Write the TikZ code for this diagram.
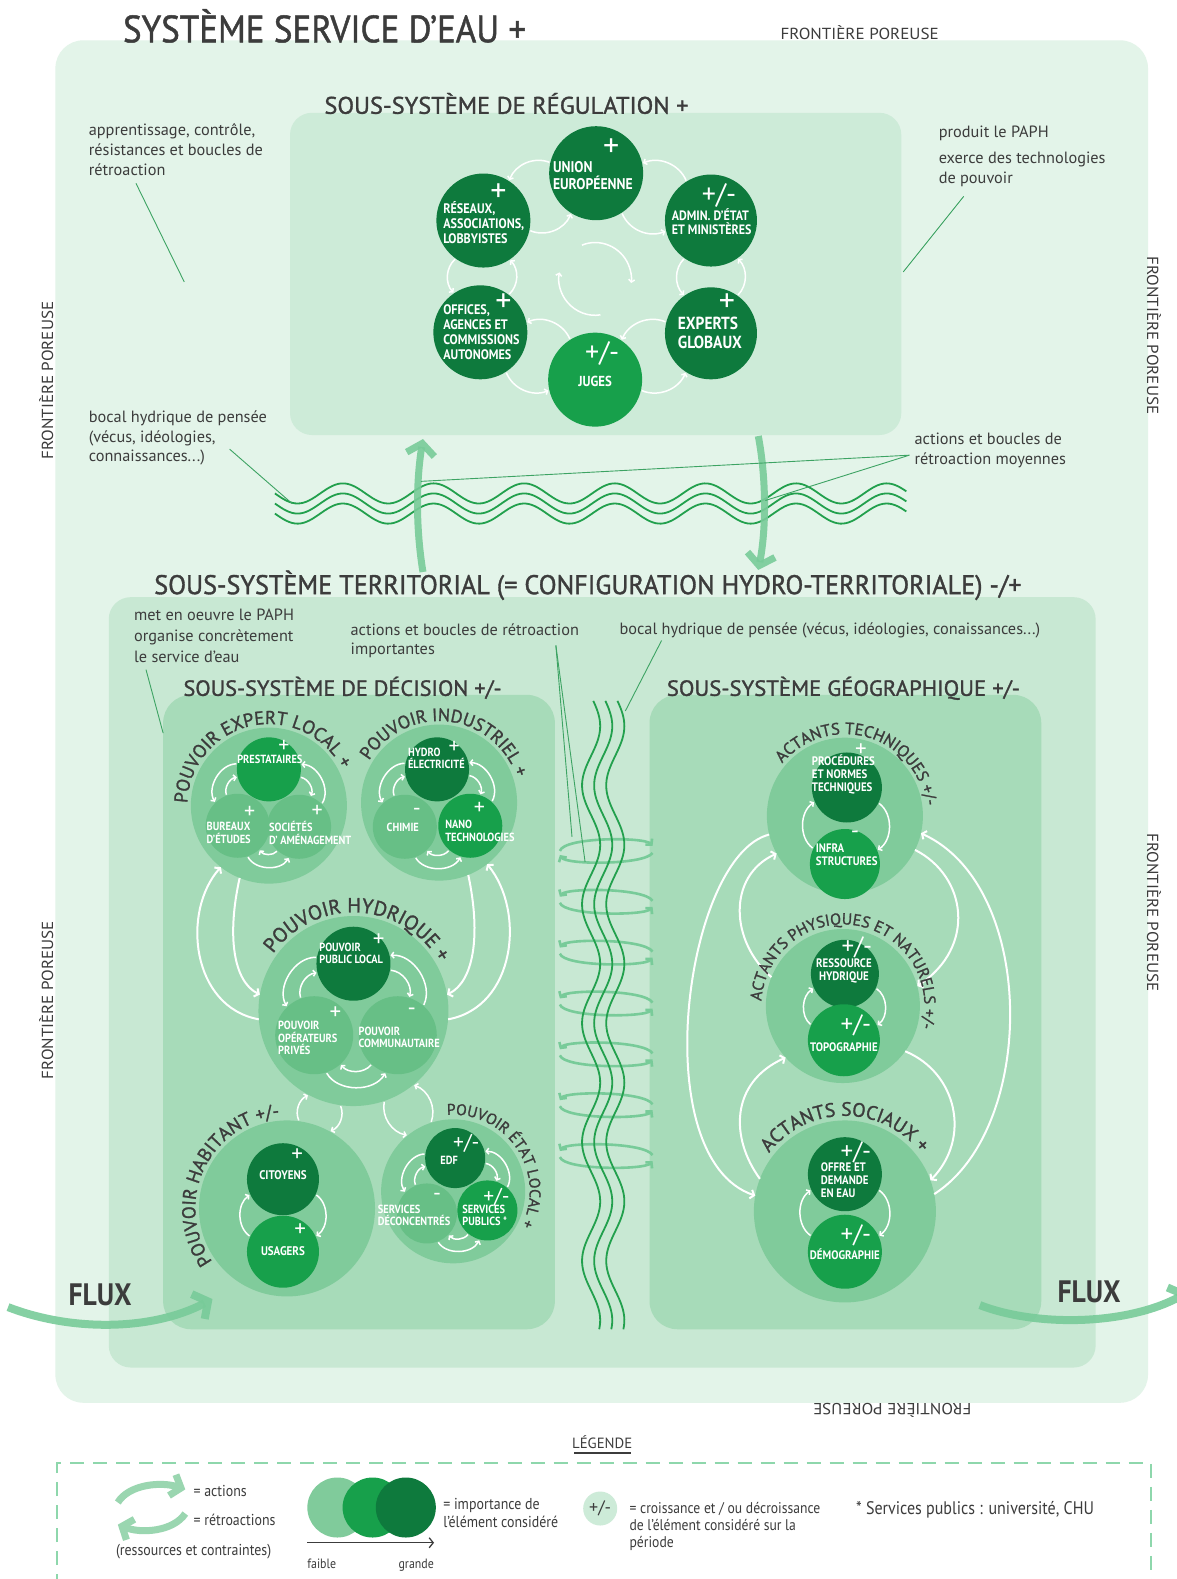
\documentclass[tikz,border=0pt]{standalone}
\usepackage{graphicx}
\usepackage{fontspec}
\setmainfont{PT Sans}
\newfontfamily\cond[FakeStretch=0.88]{PT Sans}
\newfontfamily\semib[FakeBold=1.3]{PT Sans}
\usetikzlibrary{arrows.meta,decorations.text,calc}
\definecolor{bgout}{HTML}{E3F4E9}
\definecolor{bgreg}{HTML}{CDEBD8}
\definecolor{bgter}{HTML}{C8E8D3}
\definecolor{bgsub}{HTML}{A7DBB9}
\definecolor{cbig}{HTML}{80CB9B}
\definecolor{clight}{HTML}{67BF86}
\definecolor{cbright}{HTML}{17A04B}
\definecolor{cdark}{HTML}{0E7A3D}
\definecolor{txt}{HTML}{3C3C3C}
\definecolor{lineg}{HTML}{3DA363}
\definecolor{waveg}{HTML}{22A04D}
\definecolor{arrg}{HTML}{78CB99}
\definecolor{legg}{HTML}{9AD6B0}
\definecolor{dashg}{HTML}{8ED7AC}
\tikzset{
  circ/.style 2 args={circle, fill=#1, minimum size=2*#2, inner sep=0pt, outer sep=0pt},
  warr/.style={white, line width=1.5pt, -{Straight Barb[length=2.5pt,width=6pt]}, shorten <=1pt, shorten >=1pt},
  bwarr/.style={white, line width=2pt, -{Straight Barb[length=3.5pt,width=9pt]}},
  rl/.style={text=white, inner sep=0pt, align=left, font=\cond\bfseries\fontsize{#1}{\dimexpr #1pt*108/100\relax}\selectfont},
  dl/.style={text=white, inner sep=0pt, align=left, font=\cond\bfseries\fontsize{#1}{\dimexpr #1pt*105/100\relax}\selectfont},
  pl/.style={text=white, inner sep=0pt, font=\fontsize{#1}{#1}\selectfont},
  btxt/.style={text=txt, inner sep=0pt, align=left, anchor=north west, font=\fontsize{16.3}{19.5}\selectfont},
  ann/.style={lineg, line width=0.9pt},
  bigarr/.style={arrg, line width=7pt, opacity=0.9, -{Straight Barb[length=11pt,width=28pt]}},
  legarr/.style={legg, line width=7pt, -{Straight Barb[length=9pt,width=22pt]}},
  waveline/.style={waveg, line width=1.8pt},
  loopa/.style={arrg, line width=2.6pt, -{Straight Barb[length=4pt,width=9pt]}},
  ttl/.style={text=txt, inner sep=0pt, anchor=base west},
  fp/.style={text=txt, inner sep=0pt},
  lg/.style={text=txt, inner sep=0pt, align=left, font=\cond\fontsize{15.8}{18}\selectfont},
}
\newcommand\twoway[4][40]{%
  \draw[warr] let \p1=(#2.center), \p2=(#3.center), \n1={atan2(\y2-\y1,\x2-\x1)}, \n2={int(\n1+#1)}, \n3={int(\n1+180-#1)} in (#2.\n2) to[bend left=#4] (#3.\n3);
  \draw[warr] let \p1=(#2.center), \p2=(#3.center), \n1={atan2(\y2-\y1,\x2-\x1)}, \n2={int(\n1-#1)}, \n3={int(\n1-180+#1)} in (#3.\n3) to[bend left=#4] (#2.\n2);
}
\newcommand\twowayR[4][40]{%
  \draw[warr] let \p1=(#2.center), \p2=(#3.center), \n1={atan2(\y2-\y1,\x2-\x1)}, \n2={int(\n1+#1)}, \n3={int(\n1+180-#1)} in (#3.\n3) to[bend right=#4] (#2.\n2);
  \draw[warr] let \p1=(#2.center), \p2=(#3.center), \n1={atan2(\y2-\y1,\x2-\x1)}, \n2={int(\n1-#1)}, \n3={int(\n1-180+#1)} in (#2.\n2) to[bend right=#4] (#3.\n3);
}
\newcommand\nest[2]{%
  \draw[warr] let \p1=(#1.center), \p2=(#2.center), \n1={atan2(\y2-\y1,\x2-\x1)}, \n2={int(\n1-72)}, \n3={int(\n1-108)} in (#1.\n2) to[bend right=60] (#2.\n3);
  \draw[warr] let \p1=(#1.center), \p2=(#2.center), \n1={atan2(\y2-\y1,\x2-\x1)}, \n2={int(\n1-48)}, \n3={int(\n1-132)} in (#2.\n3) to[bend left=50] (#1.\n2);
}
\newcommand\arctext[7]{%
  \path[decorate, decoration={text along path, text align=center, text color=txt,
     text={|\semib\fontsize{#6}{#6}\selectfont|#7}}]
     (#1,-#2) ++(#4:#3) arc[start angle=#4, end angle=#5, radius=#3];
}
\newcommand\fpor{\resizebox{158pt}{\height}{\fontsize{16}{16}\selectfont FRONTIÈRE POREUSE}}

\begin{document}
\begin{tikzpicture}[x=1.0068pt, y=1.0068pt]
\useasboundingbox (0,0) rectangle (1168,-1568);
\fill[white] (0,0) rectangle (1168,-1568);

% ---------- outer system ----------
\fill[bgout, rounded corners=28pt] (55,-40) rectangle (1140,-1393);
\node[ttl] (t0) at (122,-42) {\resizebox{403pt}{\height}{\semib\fontsize{38}{38}\selectfont SYSTÈME SERVICE D’EAU +}};
\node[fp, anchor=base west] (fp1) at (775,-39) {\fpor};
\node[fp, rotate=90] (fp2) at (46,-378) {\fpor};
\node[fp, rotate=90] (fp3) at (46,-993) {\fpor};
\node[fp, rotate=-90] (fp4) at (1146,-333) {\fpor};
\node[fp, rotate=-90] (fp5) at (1146,-906) {\fpor};
\node[fp, rotate=180] (fp6) at (886,-1401) {\fpor};

% ---------- regulation ----------
\fill[bgreg, rounded corners=22pt] (288,-112) rectangle (895,-432);
\node[ttl] (t1) at (322,-113) {\resizebox{364pt}{\height}{\semib\fontsize{24}{24}\selectfont SOUS-SYSTÈME DE RÉGULATION +}};
\node[circ={cdark}{47}] (ue) at (592,-172) {};
\node[circ={cdark}{47}] (rez) at (480,-219) {};
\node[circ={cdark}{46}] (adm) at (706,-219) {};
\node[circ={cdark}{47}] (off) at (477,-330) {};
\node[circ={cdark}{46}] (exp) at (706,-331) {};
\node[circ={cbright}{47}] (jug) at (591,-377) {};
\twowayR[35]{rez}{ue}{45}
\twowayR[35]{ue}{adm}{45}
\twowayR[35]{adm}{exp}{45}
\twowayR[35]{jug}{exp}{45}
\twowayR[35]{off}{jug}{45}
\twowayR[35]{rez}{off}{45}
\draw[warr] (591,-277) ++(113:36) arc[start angle=113, end angle=-8, radius=36];
\draw[warr] (591,-277) ++(-80:36) arc[start angle=-80, end angle=-192, radius=36];
\node[pl=32] (uep) at (607,-147) {+};
\node[rl=15.5, anchor=west] (uel) at (549,-174) {UNION\\EUROPÉENNE};
\node[pl=32] (rezp) at (495,-191) {+};
\node[rl=13.8, anchor=west] (rezl) at (440,-221) {RÉSEAUX,\\ASSOCIATIONS,\\LOBBYISTES};
\node[pl=28] (admp) at (714,-194) {+/-};
\node[rl=13.6, anchor=west] (adml) at (667,-220) {ADMIN. D’ÉTAT\\ET MINISTÈRES};
\node[pl=32] (offp) at (500,-301) {+};
\node[rl=13.8, anchor=west] (offl) at (440,-330) {OFFICES,\\AGENCES ET\\COMMISSIONS\\AUTONOMES};
\node[pl=32] (expp) at (722,-301) {+};
\node[rl=17.5, anchor=west] (expl) at (673,-331) {EXPERTS\\GLOBAUX};
\node[pl=28] (jugp) at (598,-351) {+/-};
\node[rl=14.5] (jugl) at (591,-379) {JUGES};

% ---------- horizontal waves and medium arrows ----------
\foreach \dy in {-10,0,10}{
  \draw[waveline] plot[domain=273:900, samples=220, smooth, variable=\t] (\t, {-(500+\dy+10*sin((\t-273)*4))});
}
\coordinate (upS) at (420,-568); \coordinate (upE) at (420,-436);
\coordinate (dnS) at (753,-433); \coordinate (dnE) at (753,-566);
\draw[bigarr] (upS) .. controls (413,-525) and (413,-480) .. (upE);
\draw[bigarr] (dnS) .. controls (761,-475) and (761,-525) .. (dnE);

% ---------- territorial ----------
\fill[bgter, rounded corners=22pt] (108,-593) rectangle (1088,-1358);
\node[ttl] (t2) at (153,-590) {\resizebox{867pt}{\height}{\semib\fontsize{27}{27}\selectfont SOUS-SYSTÈME TERRITORIAL (= CONFIGURATION HYDRO-TERRITORIALE) -/+}};
\fill[bgsub, rounded corners=28pt] (162,-690) rectangle (551,-1320);
\fill[bgsub, rounded corners=28pt] (645,-690) rectangle (1034,-1320);
\node[ttl] (t3) at (182,-691) {\resizebox{318pt}{\height}{\semib\fontsize{22}{22}\selectfont SOUS-SYSTÈME DE DÉCISION +/-}};
\node[ttl] (t4) at (662,-691) {\resizebox{353pt}{\height}{\semib\fontsize{22}{22}\selectfont SOUS-SYSTÈME GÉOGRAPHIQUE +/-}};

% loops and vertical waves
\foreach \k in {0,...,6}{
  \pgfmathsetmacro\yc{845+50.5*\k}
  \ifnum\k=0
    \draw[loopa] (556,-\yc) .. controls (560,-\yc+14) and (640,-\yc+14) .. (648,-\yc+5);
    \draw[loopa] (648,-\yc-2) .. controls (640,-\yc-14) and (562,-\yc-14) .. (556,-\yc-4);
  \else
    \draw[loopa] (648,-\yc+1) .. controls (640,-\yc+14) and (562,-\yc+14) .. (556,-\yc+5);
    \draw[loopa] (556,-\yc-1) .. controls (560,-\yc-14) and (640,-\yc-14) .. (648,-\yc-5);
  \fi
}
\foreach \dx in {-12,0,12}{
  \draw[waveline] plot[domain=696:1320, samples=200, smooth, variable=\t] ({599+\dx+9*sin((\t-839)*3.05+90)}, -\t);
}

% ---------- decision subsystem ----------
\node[circ={cbig}{78}] (pel) at (267,-800) {};
\node[circ={cbig}{78}] (pin) at (436,-797) {};
\node[circ={cbig}{95}] (phy) at (351,-1004) {};
\node[circ={cbig}{88}] (pha) at (285,-1200) {};
\node[circ={cbig}{72}] (pet) at (450,-1183) {};
\node[circ={cbright}{32}] (pres) at (267,-764) {};
\node[circ={clight}{32}] (bur) at (236,-820) {};
\node[circ={clight}{32}] (soc) at (297,-821) {};
\node[circ={cdark}{32}] (hyd) at (434,-764) {};
\node[circ={clight}{32}] (chi) at (402,-821) {};
\node[circ={cbright}{32}] (nan) at (467,-820) {};
\node[circ={cdark}{37}] (ppl) at (351,-957) {};
\node[circ={clight}{39}] (pop) at (312,-1028) {};
\node[circ={clight}{39}] (pco) at (395,-1028) {};
\node[circ={cdark}{36}] (cit) at (281,-1171) {};
\node[circ={cbright}{36}] (usa) at (281,-1243) {};
\node[circ={cdark}{30}] (edf) at (452,-1150) {};
\node[circ={clight}{30}] (sdc) at (424,-1205) {};
\node[circ={cbright}{30}] (spu) at (484,-1202) {};
\nest{pres}{bur}\nest{soc}{pres}\nest{bur}{soc}
\nest{hyd}{chi}\nest{nan}{hyd}\nest{chi}{nan}
\nest{ppl}{pop}\nest{pco}{ppl}\nest{pop}{pco}
\nest{edf}{sdc}\nest{spu}{edf}\nest{sdc}{spu}
\twoway[65]{cit}{usa}{55}
\twoway[10]{phy}{pha}{45}
\twowayR[10]{phy}{pet}{45}
\draw[bwarr] (phy.185) .. controls (190,-1000) and (180,-905) .. (pel.232);
\draw[bwarr] (pel.248) .. controls (225,-930) and (232,-975) .. (phy.170);
\draw[bwarr] (phy.-5) .. controls (512,-1000) and (522,-905) .. (pin.-52);
\draw[bwarr] (pin.-68) .. controls (478,-930) and (470,-975) .. (phy.10);
% labels
\node[pl=22] (presp) at (282,-741) {+};
\node[dl=11.8] (presl) at (268,-754) {PRESTATAIRES};
\node[pl=22] (burp) at (248,-807) {+};
\node[dl=11.8, anchor=west] (burl) at (205,-827) {BUREAUX\\D’ÉTUDES};
\node[pl=22] (socp) at (315,-806) {+};
\node[dl=11.8, anchor=west] (socl) at (267,-827) {SOCIÉTÉS\\D’ AMÉNAGEMENT};
\node[pl=22] (hydp) at (451,-742) {+};
\node[dl=11.8, anchor=west] (hydl) at (405,-753) {HYDRO\\ÉLECTRICITÉ};
\node[pl=22] (chip) at (414,-806) {-};
\node[dl=11.8] (chil) at (400,-822) {CHIMIE};
\node[pl=22] (nanp) at (476,-803) {+};
\node[dl=11.8, anchor=west] (nanl) at (442,-825) {NANO\\TECHNOLOGIES};
\node[pl=23] (pplp) at (376,-934) {+};
\node[dl=11.8, anchor=west] (ppll) at (317,-947) {POUVOIR\\PUBLIC LOCAL};
\node[pl=23] (popp) at (333,-1006) {+};
\node[dl=11.8, anchor=west] (popl) at (276,-1031) {POUVOIR\\OPÉRATEURS\\PRIVÉS};
\node[pl=23] (pcop) at (409,-1005) {-};
\node[dl=11.8, anchor=west] (pcol) at (356,-1030) {POUVOIR\\COMMUNAUTAIRE};
\node[pl=23] (citp) at (295,-1147) {+};
\node[dl=12.5] (citl) at (281,-1167) {CITOYENS};
\node[pl=23] (usap) at (298,-1222) {+};
\node[dl=12.5] (usal) at (281,-1242) {USAGERS};
\node[pl=21.5] (edfp) at (463,-1135) {+/-};
\node[dl=11.8] (edfl) at (446,-1152) {EDF};
\node[pl=22] (sdcp) at (434,-1189) {-};
\node[dl=11.8, anchor=west] (sdcl) at (375,-1207) {SERVICES\\DÉCONCENTRÉS};
\node[pl=21.5] (spup) at (493,-1189) {+/-};
\node[dl=11.8, anchor=west] (spul) at (459,-1207) {SERVICES\\PUBLICS *};
% curved titles
\arctext{267}{800}{81}{202.5}{2.5}{18.6}{POUVOIR EXPERT LOCAL +}
\arctext{436}{797}{81}{183.5}{-16.5}{18}{POUVOIR INDUSTRIEL +}
\arctext{351}{1004}{98}{187}{-13}{20.4}{POUVOIR HYDRIQUE +}
\arctext{285}{1200}{91}{255}{55}{18.8}{POUVOIR HABITANT +/-}
\arctext{450}{1183}{76}{134}{-66}{15.5}{POUVOIR ÉTAT LOCAL +}

% ---------- geographic subsystem ----------
\node[circ={cbig}{78}] (ate) at (839,-810) {};
\node[circ={cbig}{77}] (aph) at (837,-999) {};
\node[circ={cbig}{91}] (aso) at (839,-1203) {};
\node[circ={cdark}{35}] (pro) at (841,-782) {};
\node[circ={cbright}{35}] (inf) at (839,-858) {};
\node[circ={cdark}{34}] (res) at (839,-967) {};
\node[circ={cbright}{36}] (topo) at (838,-1033) {};
\node[circ={cdark}{37}] (off2) at (839,-1166) {};
\node[circ={cbright}{37}] (dem) at (839,-1243) {};
\twoway[65]{pro}{inf}{55}
\twoway[65]{res}{topo}{55}
\twoway[65]{off2}{dem}{55}
\draw[bwarr] (ate.194) .. controls (680,-850) and (640,-1150) .. (aso.170);
\draw[bwarr] (aph.158) .. controls (725,-935) and (722,-870) .. (ate.209);
\draw[bwarr] (aso.159) .. controls (725,-1130) and (725,-1075) .. (aph.222);
\draw[bwarr] (aso.11) .. controls (1030,-1120) and (1030,-880) .. (ate.-13);
\draw[bwarr] (ate.-26) .. controls (960,-870) and (970,-940) .. (aph.15);
\draw[bwarr] (aph.-36) .. controls (950,-1065) and (965,-1130) .. (aso.20);
\node[pl=23] (prop) at (855,-745) {+};
\node[dl=12.3, anchor=west] (prol) at (806,-769) {PROCÉDURES\\ET NORMES\\TECHNIQUES};
\node[pl=23] (infp) at (849,-829) {-};
\node[dl=12.3, anchor=west] (infl) at (810,-849) {INFRA\\STRUCTURES};
\node[pl=25] (resp) at (851,-941) {+/-};
\node[dl=12.3, align=center] (resl) at (838,-964) {RESSOURCE\\HYDRIQUE};
\node[pl=25] (topp) at (850,-1018) {+/-};
\node[dl=12.3] (topl) at (838,-1040) {TOPOGRAPHIE};
\node[pl=25] (offp2) at (850,-1144) {+/-};
\node[dl=12.3, anchor=west] (offl2) at (815,-1172) {OFFRE ET\\DEMANDE\\EN EAU};
\node[pl=25] (demp) at (850,-1227) {+/-};
\node[dl=12.3] (deml) at (839,-1245) {DÉMOGRAPHIE};
\arctext{839}{810}{81}{173.5}{-26.5}{16.5}{ACTANTS TECHNIQUES +/-}
\arctext{837}{999}{81}{200}{-39}{16}{ACTANTS PHYSIQUES ET NATURELS +/-}
\arctext{839}{1203}{95}{190}{-10}{19.4}{ACTANTS SOCIAUX +}

% ---------- flux ----------
\coordinate (fl1) at (8,-1298); \coordinate (fl2) at (211,-1290);
\draw[bigarr, line width=8pt] (fl1) .. controls (70,-1322) and (150,-1322) .. (fl2);
\coordinate (fr1) at (973,-1296); \coordinate (fr2) at (1180,-1283);
\draw[bigarr, line width=8pt] (fr1) .. controls (1030,-1318) and (1120,-1316) .. (fr2);
\node[ttl] (flx1) at (68,-1296) {\resizebox{63pt}{\height}{\bfseries\fontsize{31}{31}\selectfont FLUX}};
\node[ttl] (flx2) at (1050,-1293) {\resizebox{63pt}{\height}{\bfseries\fontsize{31}{31}\selectfont FLUX}};

% ---------- annotations ----------
\node[btxt] (a1) at (88,-123) {apprentissage, contrôle,\\résistances et boucles de\\rétroaction};
\node[btxt] (a2) at (932,-125) {produit le PAPH};
\node[btxt] (a3) at (932,-151) {exerce des technologies\\de pouvoir};
\node[btxt] (a4) at (88,-408) {bocal hydrique de pensée\\(vécus, idéologies,\\connaissances...)};
\node[btxt] (a5) at (908,-430) {actions et boucles de\\rétroaction moyennes};
\node[btxt, font=\fontsize{16.3}{21}\selectfont] (a6) at (133,-604) {met en oeuvre le PAPH\\organise concrètement\\le service d’eau};
\node[btxt] (a7) at (348,-619) {actions et boucles de rétroaction\\importantes};
\node[btxt] (a8) at (615,-618) {bocal hydrique de pensée (vécus, idéologies, conaissances...)};
\coordinate (c1a) at (135,-182); \coordinate (c1b) at (183,-280);
\coordinate (c3a) at (957,-195); \coordinate (c3b) at (897,-270);
\coordinate (c4a) at (228,-446); \coordinate (c4b) at (290,-500);
\coordinate (c5a) at (903,-452); \coordinate (c5b) at (418,-478); \coordinate (c5c) at (760,-497);
\coordinate (c6a) at (145,-665); \coordinate (c6b) at (162,-728);
\coordinate (c7a) at (552,-641); \coordinate (c7b) at (568,-831); \coordinate (c7c) at (581,-856);
\coordinate (c8a) at (657,-636); \coordinate (c8b) at (621,-706);
\draw[ann] (c1a) -- (c1b);
\draw[ann] (c3a) -- (c3b);
\draw[ann] (c4a) -- (c4b);
\draw[ann] (c5a) -- (c5b);
\draw[ann] (c5a) -- (c5c);
\draw[ann] (c6a) -- (c6b);
\draw[ann] (c7a) -- (c7b);
\draw[ann] (c7a) -- (c7c);
\draw[ann] (c8a) -- (c8b);

% ---------- legend ----------
\node[ttl, anchor=base] (leg) at (598,-1438) {\fontsize{14.8}{14.8}\selectfont LÉGENDE};
\coordinate (lu1) at (570,-1443); \coordinate (lu2) at (627,-1443);
\draw[txt, line width=1.6pt] (lu1) -- (lu2);
\draw[dashg, line width=2pt, dash pattern=on 14pt off 9pt] (57,-1600) -- (57,-1453) -- (1143,-1453) -- (1143,-1600);
\coordinate (la1) at (117,-1492); \coordinate (la2) at (184,-1479);
\draw[legarr] (la1) .. controls (128,-1474) and (160,-1471) .. (la2);
\coordinate (la3) at (184,-1503); \coordinate (la4) at (117,-1514);
\draw[legarr] (la3) .. controls (172,-1521) and (140,-1523) .. (la4);
\node[lg, anchor=base west] (l1) at (192,-1486) {= actions};
\node[lg, anchor=base west] (l2) at (192,-1515) {= rétroactions};
\node[lg, anchor=base west] (l3) at (115,-1545) {(ressources et contraintes)};
\node[circ={cbig}{30}] (lc1) at (335,-1497) {};
\node[circ={cbright}{30}] (lc2) at (370,-1497) {};
\node[circ={cdark}{30}] (lc3) at (403,-1497) {};
\coordinate (lx1) at (305,-1532); \coordinate (lx2) at (431,-1532);
\draw[txt, line width=1.3pt, -{Straight Barb[length=4pt,width=10pt]}] (lx1) -- (lx2);
\node[lg, anchor=base west, font=\cond\fontsize{13.5}{14}\selectfont] (l4) at (305,-1558) {faible};
\node[lg, anchor=base east, font=\cond\fontsize{13.5}{14}\selectfont] (l5) at (431,-1558) {grande};
\node[lg, anchor=north west] (l6) at (440,-1488) {= importance de\\l’élément considéré};
\node[circ={bgreg}{17}] (lpm) at (596,-1498) {};
\node[text=txt, inner sep=0pt, font=\fontsize{18}{18}\selectfont] (lpmt) at (596,-1498) {+/-};
\node[lg, anchor=north west, font=\cond\fontsize{15.5}{17}\selectfont] (l7) at (625,-1492) {= croissance et / ou décroissance\\de l’élément considéré sur la\\période};
\node[lg, anchor=base west, font=\cond\fontsize{18.2}{18}\selectfont] (l8) at (850,-1504) {* Services publics : université, CHU};
\end{tikzpicture}
\end{document}
